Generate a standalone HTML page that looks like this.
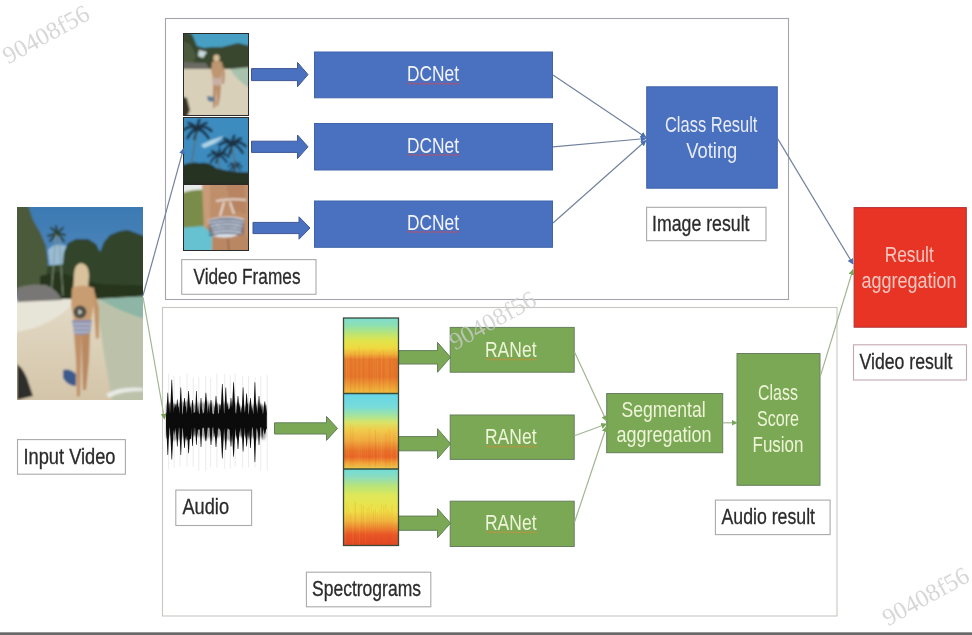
<!DOCTYPE html>
<html><head><meta charset="utf-8"><title>Video classification pipeline</title>
<style>html,body{margin:0;padding:0;background:#fff;overflow:hidden}svg{display:block;filter:blur(0.45px)}text{font-family:"Liberation Sans",sans-serif}</style>
</head><body>
<svg width="972" height="635" viewBox="0 0 972 635" font-family="Liberation Sans, sans-serif">
<defs>
<filter id="blur05"><feGaussianBlur stdDeviation="0.5"/></filter>
<filter id="blur1" x="-5%" y="-5%" width="110%" height="110%"><feGaussianBlur stdDeviation="1.2"/></filter>
<filter id="blur2" x="-5%" y="-5%" width="110%" height="110%"><feGaussianBlur stdDeviation="2"/></filter>
<linearGradient id="sky" x1="0" y1="0" x2="0" y2="1"><stop offset="0" stop-color="#3a78b2"/><stop offset="1" stop-color="#79a9cf"/></linearGradient>
<linearGradient id="sand" x1="0" y1="0" x2="0" y2="1"><stop offset="0" stop-color="#e3dac6"/><stop offset="1" stop-color="#d2c3a6"/></linearGradient>
<linearGradient id="water" x1="0" y1="0" x2="1" y2="0"><stop offset="0" stop-color="#c8cab0" stop-opacity="0"/><stop offset="1" stop-color="#86b8a8"/></linearGradient>
<linearGradient id="spec1" x1="0" y1="0" x2="0" y2="1">
 <stop offset="0" stop-color="#7fdcd0"/><stop offset="0.1" stop-color="#8ee0b0"/><stop offset="0.2" stop-color="#b8e478"/><stop offset="0.3" stop-color="#e0e44c"/>
 <stop offset="0.4" stop-color="#f0d840"/><stop offset="0.48" stop-color="#f0b03a"/><stop offset="0.55" stop-color="#e6782c"/><stop offset="0.78" stop-color="#e4742c"/>
 <stop offset="0.9" stop-color="#ec9c36"/><stop offset="1" stop-color="#f0bc40"/></linearGradient>
<linearGradient id="spec2" x1="0" y1="0" x2="0" y2="1">
 <stop offset="0" stop-color="#66d4ea"/><stop offset="0.18" stop-color="#78dcd8"/><stop offset="0.3" stop-color="#a8e49a"/><stop offset="0.38" stop-color="#d8e468"/>
 <stop offset="0.48" stop-color="#f0cc4c"/><stop offset="0.62" stop-color="#f0aa40"/><stop offset="0.76" stop-color="#e8702a"/><stop offset="0.84" stop-color="#e86428"/>
 <stop offset="0.92" stop-color="#f0a038"/><stop offset="1" stop-color="#e8cc50"/></linearGradient>
<linearGradient id="spec3" x1="0" y1="0" x2="0" y2="1">
 <stop offset="0" stop-color="#70dcd8"/><stop offset="0.1" stop-color="#8adcc0"/><stop offset="0.22" stop-color="#b8e47a"/><stop offset="0.35" stop-color="#dfe858"/>
 <stop offset="0.55" stop-color="#eee048"/><stop offset="0.68" stop-color="#f0b840"/><stop offset="0.78" stop-color="#ec8030"/><stop offset="0.86" stop-color="#e85428"/>
 <stop offset="1" stop-color="#e04424"/></linearGradient>
<marker id="ab" viewBox="0 0 10 10" refX="9" refY="5" markerWidth="5" markerHeight="5" orient="auto"><path d="M0,0 L10,5 L0,10 z" fill="#4a6fb0"/></marker>
<marker id="ag" viewBox="0 0 10 10" refX="9" refY="5" markerWidth="5" markerHeight="5" orient="auto"><path d="M0,0 L10,5 L0,10 z" fill="#7aa65a"/></marker>
</defs>
<rect width="972" height="635" fill="#ffffff"/>
<rect x="165.5" y="18.5" width="623" height="281" fill="none" stroke="#a4a4ac" stroke-width="1.1"/>
<rect x="162.5" y="307.5" width="674.5" height="308.5" fill="none" stroke="#c4c8c0" stroke-width="1.1"/>
<rect x="17.5" y="439.6" width="107.9" height="34.6" fill="#fff" stroke="#aaaaaa" stroke-width="1.1"/>
<text x="23.5" y="463.6" font-size="21.4" fill="#2b2b2b" textLength="92" lengthAdjust="spacingAndGlyphs" stroke="#2b2b2b" stroke-width="0.3">Input Video</text>
<rect x="181.7" y="259.6" width="134.3" height="34.7" fill="#fff" stroke="#aaaaaa" stroke-width="1.1"/>
<text x="193.5" y="283.6" font-size="21.4" fill="#2b2b2b" textLength="107" lengthAdjust="spacingAndGlyphs" stroke="#2b2b2b" stroke-width="0.3">Video Frames</text>
<rect x="646.6" y="207.3" width="119.4" height="33.4" fill="#fff" stroke="#aaaaaa" stroke-width="1.1"/>
<text x="652" y="230.6" font-size="21.4" fill="#2b2b2b" textLength="97.5" lengthAdjust="spacingAndGlyphs" stroke="#2b2b2b" stroke-width="0.3">Image result</text>
<rect x="853.5" y="344.8" width="113.0" height="35.2" fill="#fff" stroke="#c4a8b0" stroke-width="1.1"/>
<text x="859.5" y="368.8" font-size="21.4" fill="#2b2b2b" textLength="93" lengthAdjust="spacingAndGlyphs" stroke="#2b2b2b" stroke-width="0.3">Video result</text>
<rect x="175.8" y="490.1" width="75.8" height="35.4" fill="#fff" stroke="#aaaaaa" stroke-width="1.1"/>
<text x="182.5" y="514.2" font-size="21.4" fill="#2b2b2b" textLength="46.5" lengthAdjust="spacingAndGlyphs" stroke="#2b2b2b" stroke-width="0.3">Audio</text>
<rect x="306.4" y="572.2" width="124.4" height="34.6" fill="#fff" stroke="#aaaaaa" stroke-width="1.1"/>
<text x="312" y="596" font-size="21.4" fill="#2b2b2b" textLength="109" lengthAdjust="spacingAndGlyphs" stroke="#2b2b2b" stroke-width="0.3">Spectrograms</text>
<rect x="715.4" y="500.1" width="114.7" height="34.5" fill="#fff" stroke="#aaaaaa" stroke-width="1.1"/>
<text x="721.5" y="524" font-size="21.4" fill="#2b2b2b" textLength="93.5" lengthAdjust="spacingAndGlyphs" stroke="#2b2b2b" stroke-width="0.3">Audio result</text>
<clipPath id="cv"><rect x="17" y="207" width="126" height="193"/></clipPath>
<g clip-path="url(#cv)"><g filter="url(#blur1)">
<rect x="10" y="200" width="140" height="210" fill="url(#sky)"/>
<path d="M48,250 Q54,242 66,246 L66,268 Q58,272 50,268 Z" fill="#98bcd8"/>
<path d="M44,266 L68,264 L68,300 L44,300 Z" fill="#33442b"/>
<path d="M10,200 L28,205 L33,220 L40,232 L46,246 L48,262 L44,292 L10,294 Z" fill="#4b5a3a"/>
<path d="M62,272 L64,252 L68,243 L76,239 L88,239 L96,244 L100,252 L104,242 L110,235 L120,231 L128,230 L136,233 L150,238 L150,302 L58,302 Z" fill="#304429"/>
<path d="M40,276 L60,272 L80,280 L100,284 L150,286 L150,303 L40,303 Z" fill="#26351f"/>
<g stroke="#2c3c28" stroke-width="2.2" fill="none" stroke-linecap="round"><path d="M57,233 l-9,3 M57,233 l8,2 M57,233 l-6,-5 M57,233 l6,-5 M57,233 l-1,-7 M57,233 l-7,8 M57,233 l7,8"/></g>
<path d="M56,234 L51,296 M59,236 L63,296" stroke="#8a9880" stroke-width="1"/>
<rect x="10" y="299" width="140" height="110" fill="url(#sand)"/>
<path d="M10,299 L78,299 Q62,318 34,328 L10,334 Z" fill="#e7e4d8"/>
<path d="M96,299 L150,296 L150,410 L114,410 Q104,360 96,299 Z" fill="#bcc2aa"/>
<path d="M99,299 L150,296 L150,320 Q124,314 99,299 Z" fill="#8db6a6"/>
<path d="M106,394 Q120,386 143,388 L143,391 Q120,391 109,398Z" fill="#e6eae4"/>
<path d="M17,288 Q30,283 46,285 Q58,290 62,300 L17,302 Z" fill="#797774"/>
<path d="M17,364 Q25,370 29,384 L33,396 L17,400 Z" fill="#2e2e2b"/>
<path d="M74,276 Q74,264 81,263 Q89,264 89,276 L88,290 L80,292 L73,290 Z" fill="#d9c29c"/>
<path d="M72,288 Q82,283 94,288 L94,305 L91,321 L74,321 L71,305 Z" fill="#c99d72"/>
<path d="M94,290 L99,308 L99,338 L96,339 L94,312 Z" fill="#c39468"/>
<path d="M72,320 L92,320 L90,334 L82,336 L74,334 Z" fill="#8c92ae"/>
<path d="M73,324 L91,324 M73,328 L90,328 M74,332 L89,332" stroke="#dcdee8" stroke-width="0.9"/>
<path d="M74,334 L82,335 L81,360 L80,396 L77,397 L76,360 Z" fill="#c08f66"/>
<path d="M82,335 L90,333 L89,360 L86,390 L83,390 L82,360 Z" fill="#b98961"/>
<circle cx="80" cy="312" r="6.5" fill="#4c4e46"/>
<path d="M78.5,309 L82.5,312 L78.5,315 Z" fill="#d0d0c8"/>
<path d="M63,370 Q70,368 76,374 L76,386 Q68,386 63,378 Z" fill="#3d5a8c"/>
</g></g>
<clipPath id="cf1"><rect x="183" y="33" width="66" height="83"/></clipPath>
<g clip-path="url(#cf1)"><g filter="url(#blur1)">
<rect x="180" y="30" width="72" height="90" fill="#46a0c4"/>
<path d="M180,30 L192,34 L197,46 L204,48 L212,47 L222,47 L230,45 L238,43 L246,45 L252,46 L252,72 L180,72 Z" fill="#38472f"/>
<path d="M180,40 L190,44 L196,56 L192,66 L180,66 Z" fill="#4c5a3c"/>
<path d="M199,50 L207,52 L203,58 L198,56Z" fill="#c8d8dc"/>
<path d="M180,62 L206,63 L210,70 L180,71 Z" fill="#6c6a64"/>
<rect x="180" y="69" width="72" height="50" fill="#d9d0b9"/>
<path d="M230,69 L252,67 L252,90 Q236,80 230,69Z" fill="#a8c2ae"/>
<path d="M180,96 L187,98 L190,110 L186,119 L180,119Z" fill="#3a3328"/>
<ellipse cx="216.5" cy="58" rx="3.2" ry="3.6" fill="#d6bc96"/>
<path d="M212,62 Q217,60 222,62 L223,70 L221,79 L213,79 L211,70 Z" fill="#bf9672"/>
<path d="M223,64 L225,74 L224,84 L222,84 Z" fill="#b88e6c"/>
<path d="M212,78 L222,78 L221,86 L213,86Z" fill="#c8aea4"/>
<path d="M213,85 L217,86 L216,98 L215,108 L213,108 L213,98 Z M217,86 L221,85 L220,98 L218,106 L216,106 L217,98 Z" fill="#b88c68"/>
<path d="M207,96 L214,97 L214,102 L208,101Z" fill="#5a7a98"/>
</g></g>
<rect x="183.5" y="33.5" width="65" height="82" fill="none" stroke="#2a2a2a" stroke-width="1"/>
<clipPath id="cf2"><rect x="183" y="117" width="66" height="67"/></clipPath>
<g clip-path="url(#cf2)"><g filter="url(#blur1)">
<rect x="180" y="114" width="72" height="72" fill="#3c8cc0"/>
<path d="M201,145 Q212,139 224,136 Q218,143 204,148 Z" fill="#b0d6e6"/>
<path d="M197.5,129 Q190.5,124.0 183.5,130.0 M197.5,129 Q204.5,124.0 211.5,131.0 M197.5,129 Q191.5,130.0 187.5,138.0 M197.5,129 Q203.5,130.0 208.5,138.0 M197.5,129 Q197.5,123.0 199.5,120.0 M197.5,129 Q193.5,124.0 188.5,123.0 M197.5,129 Q201.5,124.0 206.5,123.0 M197.5,129 Q196.5,133.0 194.5,139.0" stroke="#1c3244" stroke-width="2.80" fill="none" stroke-linecap="round"/>
<path d="M232.4,144.3 Q225.8,139.6 219.1,145.2 M232.4,144.3 Q239.1,139.6 245.7,146.2 M232.4,144.3 Q226.7,145.2 222.9,152.9 M232.4,144.3 Q238.1,145.2 242.8,152.9 M232.4,144.3 Q232.4,138.6 234.3,135.8 M232.4,144.3 Q228.6,139.6 223.8,138.6 M232.4,144.3 Q236.2,139.6 241.0,138.6 M232.4,144.3 Q231.5,148.1 229.6,153.8" stroke="#1c3244" stroke-width="2.66" fill="none" stroke-linecap="round"/>
<path d="M218.4,155.4 Q213.2,151.7 207.9,156.2 M218.4,155.4 Q223.7,151.7 228.9,156.9 M218.4,155.4 Q213.9,156.2 210.9,162.2 M218.4,155.4 Q222.9,156.2 226.7,162.2 M218.4,155.4 Q218.4,150.9 219.9,148.7 M218.4,155.4 Q215.4,151.7 211.7,150.9 M218.4,155.4 Q221.4,151.7 225.2,150.9 M218.4,155.4 Q217.7,158.4 216.2,162.9" stroke="#1c3244" stroke-width="2.10" fill="none" stroke-linecap="round"/>
<path d="M235,166 Q231.5,163.5 228.0,166.5 M235,166 Q238.5,163.5 242.0,167.0 M235,166 Q232.0,166.5 230.0,170.5 M235,166 Q238.0,166.5 240.5,170.5 M235,166 Q235.0,163.0 236.0,161.5 M235,166 Q233.0,163.5 230.5,163.0 M235,166 Q237.0,163.5 239.5,163.0 M235,166 Q234.5,168.0 233.5,171.0" stroke="#1c3244" stroke-width="1.40" fill="none" stroke-linecap="round"/>
<path d="M197,132 L188,182 M232,147 L238,182 M218,158 L222,182" stroke="#5a6a6a" stroke-width="1.3"/>
<path d="M180,166 Q190,161 200,163 Q210,162 216,168 Q232,173 252,172 L252,186 L180,186 Z" fill="#283020"/>
</g></g>
<rect x="183.5" y="117.5" width="65" height="66.5" fill="none" stroke="#2a2a2a" stroke-width="1"/>
<clipPath id="cf3"><rect x="183" y="184" width="66" height="67"/></clipPath>
<g clip-path="url(#cf3)"><g filter="url(#blur1)">
<rect x="180" y="182" width="72" height="72" fill="#bf8f6c"/>
<path d="M180,182 L203,182 L202,192 L180,196 Z" fill="#e6ecea"/>
<path d="M180,194 Q192,189 204,190 L210,226 L200,232 L180,234 Z" fill="#7a8c4a"/>
<path d="M180,228 L204,226 L214,236 L216,254 L180,254 Z" fill="#66c2d0"/>
<path d="M202,184 L210,184 L210,226 L204,228 Z" fill="#c89c78"/>
<path d="M226,184 L244,184 L246,214 L232,210 Z" fill="#b88462"/>
<path d="M216,201 Q230,198 246,200 M224,202 L220,216 M230,202 L234,214" stroke="#eee6e0" stroke-width="1.6" fill="none"/>
<path d="M208,220 Q228,214 244,219 L241,234 Q226,240 214,236 Z" fill="#dde4ec"/>
<path d="M209,221.5 Q228,216.5 244,221.5" stroke="#34466a" stroke-width="1.8" fill="none"/>
<path d="M209,224.9 Q228,219.9 244,224.9" stroke="#34466a" stroke-width="1.8" fill="none"/>
<path d="M209,228.3 Q228,223.3 244,228.3" stroke="#34466a" stroke-width="1.8" fill="none"/>
<path d="M209,231.7 Q228,226.7 244,231.7" stroke="#34466a" stroke-width="1.8" fill="none"/>
<path d="M209,235.1 Q228,230.1 244,235.1" stroke="#34466a" stroke-width="1.8" fill="none"/>
<path d="M212,236 Q226,241 242,234 L249,238 L249,254 L212,254 Z" fill="#b98864"/>
<path d="M228,239 L229,252" stroke="#8a5a40" stroke-width="1.2"/>
</g></g>
<rect x="183.5" y="184.5" width="65" height="66" fill="none" stroke="#2a2a2a" stroke-width="1"/>
<path d="M251.5,68.6 L297.5,68.6 L297.5,62.39999999999999 L308,74.6 L297.5,86.8 L297.5,80.6 L251.5,80.6 Z" fill="#4a70c0" stroke="#3e5894" stroke-width="1"/>
<path d="M251.5,141.20000000000002 L297.5,141.20000000000002 L297.5,135.0 L308,146.8 L297.5,158.60000000000002 L297.5,152.4 L251.5,152.4 Z" fill="#4a70c0" stroke="#3e5894" stroke-width="1"/>
<path d="M253,222.4 L299,222.4 L299,216.8 L310,228 L299,239.2 L299,233.6 L253,233.6 Z" fill="#4a70c0" stroke="#3e5894" stroke-width="1"/>
<path d="M274.5,422.79999999999995 L326.5,422.79999999999995 L326.5,416.4 L337.5,428.4 L326.5,440.4 L326.5,434.0 L274.5,434.0 Z" fill="#7aa855" stroke="#667f5c" stroke-width="1"/>
<path d="M398.5,350.6 L437.5,350.6 L437.5,342.3 L450.5,357.3 L437.5,372.3 L437.5,364.0 L398.5,364.0 Z" fill="#7aa855" stroke="#667f5c" stroke-width="1"/>
<path d="M398.5,436.59999999999997 L437.5,436.59999999999997 L437.5,428.7 L450.5,443.7 L437.5,458.7 L437.5,450.8 L398.5,450.8 Z" fill="#7aa855" stroke="#667f5c" stroke-width="1"/>
<path d="M398.5,516.1 L437.5,516.1 L437.5,508.6 L450.5,523.2 L437.5,537.8000000000001 L437.5,530.3000000000001 L398.5,530.3000000000001 Z" fill="#7aa855" stroke="#667f5c" stroke-width="1"/>
<rect x="314.5" y="52.0" width="238" height="45.8" fill="#4a70c0" stroke="#4064aa" stroke-width="1"/>
<text x="407" y="81.2" font-size="21.4" fill="#f2f4fa" textLength="52" lengthAdjust="spacingAndGlyphs" >DCNet</text>
<path d="M407,83.7 L408.5,82.9 L410.0,84.5 L411.5,82.9 L413.0,84.5 L414.5,82.9 L416.0,84.5 L417.5,82.9 L419.0,84.5 L420.5,82.9 L422.0,84.5 L423.5,82.9 L425.0,84.5 L426.5,82.9 L428.0,84.5 L429.5,82.9 L431.0,84.5 L432.5,82.9 L434.0,84.5 L435.5,82.9 L437.0,84.5 L438.5,82.9 L440.0,84.5 L441.5,82.9 L443.0,84.5 L444.5,82.9 L446.0,84.5 L447.5,82.9 L449.0,84.5 L450.5,82.9 L452.0,84.5 L453.5,82.9 L455.0,84.5 L456.5,82.9 L458.0,84.5 L459.5,82.9" stroke="#d04a58" stroke-width="0.9" fill="none"/>
<rect x="314.5" y="123.5" width="238" height="46.5" fill="#4a70c0" stroke="#4064aa" stroke-width="1"/>
<text x="407" y="152.5" font-size="21.4" fill="#f2f4fa" textLength="52" lengthAdjust="spacingAndGlyphs" >DCNet</text>
<path d="M407,155.0 L408.5,154.2 L410.0,155.8 L411.5,154.2 L413.0,155.8 L414.5,154.2 L416.0,155.8 L417.5,154.2 L419.0,155.8 L420.5,154.2 L422.0,155.8 L423.5,154.2 L425.0,155.8 L426.5,154.2 L428.0,155.8 L429.5,154.2 L431.0,155.8 L432.5,154.2 L434.0,155.8 L435.5,154.2 L437.0,155.8 L438.5,154.2 L440.0,155.8 L441.5,154.2 L443.0,155.8 L444.5,154.2 L446.0,155.8 L447.5,154.2 L449.0,155.8 L450.5,154.2 L452.0,155.8 L453.5,154.2 L455.0,155.8 L456.5,154.2 L458.0,155.8 L459.5,154.2" stroke="#d04a58" stroke-width="0.9" fill="none"/>
<rect x="314.5" y="201.0" width="238" height="46.30000000000001" fill="#4a70c0" stroke="#4064aa" stroke-width="1"/>
<text x="407" y="229.5" font-size="21.4" fill="#f2f4fa" textLength="52" lengthAdjust="spacingAndGlyphs" >DCNet</text>
<path d="M407,232.0 L408.5,231.2 L410.0,232.8 L411.5,231.2 L413.0,232.8 L414.5,231.2 L416.0,232.8 L417.5,231.2 L419.0,232.8 L420.5,231.2 L422.0,232.8 L423.5,231.2 L425.0,232.8 L426.5,231.2 L428.0,232.8 L429.5,231.2 L431.0,232.8 L432.5,231.2 L434.0,232.8 L435.5,231.2 L437.0,232.8 L438.5,231.2 L440.0,232.8 L441.5,231.2 L443.0,232.8 L444.5,231.2 L446.0,232.8 L447.5,231.2 L449.0,232.8 L450.5,231.2 L452.0,232.8 L453.5,231.2 L455.0,232.8 L456.5,231.2 L458.0,232.8 L459.5,231.2" stroke="#d04a58" stroke-width="0.9" fill="none"/>
<rect x="646.7" y="86.8" width="130.6" height="101.4" fill="#4a70c0" stroke="#4064aa" stroke-width="1"/>
<text x="711.2" y="132.4" font-size="21.4" fill="#e8ecf6" textLength="92.5" lengthAdjust="spacingAndGlyphs" text-anchor="middle" >Class Result</text>
<text x="711.8" y="158" font-size="21.4" fill="#e8ecf6" textLength="51" lengthAdjust="spacingAndGlyphs" text-anchor="middle" >Voting</text>
<rect x="854.1" y="207.6" width="112.2" height="119.6" fill="#e83424" stroke="#b03034" stroke-width="1"/>
<text x="909.2" y="262" font-size="21.4" fill="#f6c6c0" textLength="49" lengthAdjust="spacingAndGlyphs" text-anchor="middle" >Result</text>
<text x="909" y="287.5" font-size="21.4" fill="#f6c6c0" textLength="95" lengthAdjust="spacingAndGlyphs" text-anchor="middle" >aggregation</text>
<rect x="450.2" y="327.4" width="124" height="44.80000000000001" fill="#7aa855" stroke="#667f5c" stroke-width="1"/>
<text x="485" y="357" font-size="21.4" fill="#eef4d8" textLength="51.5" lengthAdjust="spacingAndGlyphs" >RANet</text>
<path d="M486,359.5 L487.5,358.7 L489.0,360.3 L490.5,358.7 L492.0,360.3 L493.5,358.7 L495.0,360.3 L496.5,358.7 L498.0,360.3 L499.5,358.7 L501.0,360.3 L502.5,358.7 L504.0,360.3 L505.5,358.7 L507.0,360.3 L508.5,358.7 L510.0,360.3 L511.5,358.7 L513.0,360.3 L514.5,358.7 L516.0,360.3 L517.5,358.7 L519.0,360.3 L520.5,358.7 L522.0,360.3 L523.5,358.7 L525.0,360.3 L526.5,358.7 L528.0,360.3 L529.5,358.7 L531.0,360.3 L532.5,358.7 L534.0,360.3 L535.5,358.7 L537.0,360.3" stroke="#c8903a" stroke-width="0.9" fill="none"/>
<rect x="450.2" y="415" width="124" height="44.39999999999998" fill="#7aa855" stroke="#667f5c" stroke-width="1"/>
<text x="485" y="444.1" font-size="21.4" fill="#eef4d8" textLength="51.5" lengthAdjust="spacingAndGlyphs" >RANet</text>
<path d="M486,446.6 L487.5,445.8 L489.0,447.40000000000003 L490.5,445.8 L492.0,447.40000000000003 L493.5,445.8 L495.0,447.40000000000003 L496.5,445.8 L498.0,447.40000000000003 L499.5,445.8 L501.0,447.40000000000003 L502.5,445.8 L504.0,447.40000000000003 L505.5,445.8 L507.0,447.40000000000003 L508.5,445.8 L510.0,447.40000000000003 L511.5,445.8 L513.0,447.40000000000003 L514.5,445.8 L516.0,447.40000000000003 L517.5,445.8 L519.0,447.40000000000003 L520.5,445.8 L522.0,447.40000000000003 L523.5,445.8 L525.0,447.40000000000003 L526.5,445.8 L528.0,447.40000000000003 L529.5,445.8 L531.0,447.40000000000003 L532.5,445.8 L534.0,447.40000000000003 L535.5,445.8 L537.0,447.40000000000003" stroke="#c8903a" stroke-width="0.9" fill="none"/>
<rect x="450.2" y="501.2" width="124" height="45.30000000000001" fill="#7aa855" stroke="#667f5c" stroke-width="1"/>
<text x="485" y="529.8" font-size="21.4" fill="#eef4d8" textLength="51.5" lengthAdjust="spacingAndGlyphs" >RANet</text>
<path d="M486,532.3 L487.5,531.5 L489.0,533.0999999999999 L490.5,531.5 L492.0,533.0999999999999 L493.5,531.5 L495.0,533.0999999999999 L496.5,531.5 L498.0,533.0999999999999 L499.5,531.5 L501.0,533.0999999999999 L502.5,531.5 L504.0,533.0999999999999 L505.5,531.5 L507.0,533.0999999999999 L508.5,531.5 L510.0,533.0999999999999 L511.5,531.5 L513.0,533.0999999999999 L514.5,531.5 L516.0,533.0999999999999 L517.5,531.5 L519.0,533.0999999999999 L520.5,531.5 L522.0,533.0999999999999 L523.5,531.5 L525.0,533.0999999999999 L526.5,531.5 L528.0,533.0999999999999 L529.5,531.5 L531.0,533.0999999999999 L532.5,531.5 L534.0,533.0999999999999 L535.5,531.5 L537.0,533.0999999999999" stroke="#c8903a" stroke-width="0.9" fill="none"/>
<rect x="606.7" y="393.5" width="116" height="59.2" fill="#7aa855" stroke="#667f5c" stroke-width="1"/>
<text x="663.6" y="416.6" font-size="21.4" fill="#eef4d8" textLength="84" lengthAdjust="spacingAndGlyphs" text-anchor="middle" >Segmental</text>
<text x="664" y="441.6" font-size="21.4" fill="#eef4d8" textLength="95" lengthAdjust="spacingAndGlyphs" text-anchor="middle" >aggregation</text>
<rect x="737" y="353.5" width="83" height="131.8" fill="#7aa855" stroke="#667f5c" stroke-width="1"/>
<text x="778" y="399.7" font-size="21.4" fill="#eef4d8" textLength="40" lengthAdjust="spacingAndGlyphs" text-anchor="middle" >Class</text>
<text x="778" y="426.2" font-size="21.4" fill="#eef4d8" textLength="42" lengthAdjust="spacingAndGlyphs" text-anchor="middle" >Score</text>
<text x="778" y="451.9" font-size="21.4" fill="#eef4d8" textLength="51" lengthAdjust="spacingAndGlyphs" text-anchor="middle" >Fusion</text>
<line x1="143" y1="295.5" x2="183.5" y2="148.7" stroke="#72829e" stroke-width="1.2" marker-end="url(#ab)"/>
<line x1="553" y1="75" x2="646" y2="137.5" stroke="#72829e" stroke-width="1.2" marker-end="url(#ab)"/>
<line x1="553" y1="146.8" x2="646" y2="138.5" stroke="#72829e" stroke-width="1.2" marker-end="url(#ab)"/>
<line x1="553" y1="223" x2="646" y2="140.5" stroke="#72829e" stroke-width="1.2" marker-end="url(#ab)"/>
<line x1="777.8" y1="138.9" x2="853" y2="264" stroke="#72829e" stroke-width="1.2" marker-end="url(#ab)"/>
<line x1="143" y1="297" x2="164.5" y2="419" stroke="#a3b592" stroke-width="1.2" marker-end="url(#ag)"/>
<line x1="574.5" y1="351.9" x2="606.5" y2="421" stroke="#a3b592" stroke-width="1.2" marker-end="url(#ag)"/>
<line x1="574.5" y1="435.8" x2="606.5" y2="424" stroke="#a3b592" stroke-width="1.2" marker-end="url(#ag)"/>
<line x1="574.5" y1="522.3" x2="606.5" y2="426.5" stroke="#a3b592" stroke-width="1.2" marker-end="url(#ag)"/>
<line x1="722.8" y1="422.8" x2="737" y2="422.8" stroke="#a3b592" stroke-width="1.2" marker-end="url(#ag)"/>
<line x1="820" y1="377.4" x2="853" y2="269.5" stroke="#a3b592" stroke-width="1.2" marker-end="url(#ag)"/>
<line x1="168.6" y1="373.9" x2="168.6" y2="469.3" stroke="#e4e4e4" stroke-width="0.7"/>
<line x1="174.1" y1="376.2" x2="174.1" y2="467.8" stroke="#e4e4e4" stroke-width="0.7"/>
<line x1="180.1" y1="376.0" x2="180.1" y2="466.2" stroke="#e4e4e4" stroke-width="0.7"/>
<line x1="187.1" y1="373.4" x2="187.1" y2="466.5" stroke="#e4e4e4" stroke-width="0.7"/>
<line x1="193.2" y1="378.0" x2="193.2" y2="466.6" stroke="#e4e4e4" stroke-width="0.7"/>
<line x1="198.8" y1="376.8" x2="198.8" y2="470.7" stroke="#e4e4e4" stroke-width="0.7"/>
<line x1="205.8" y1="375.4" x2="205.8" y2="470.9" stroke="#e4e4e4" stroke-width="0.7"/>
<line x1="210.6" y1="378.2" x2="210.6" y2="467.4" stroke="#e4e4e4" stroke-width="0.7"/>
<line x1="216.9" y1="373.7" x2="216.9" y2="467.5" stroke="#e4e4e4" stroke-width="0.7"/>
<line x1="224.7" y1="374.1" x2="224.7" y2="468.9" stroke="#e4e4e4" stroke-width="0.7"/>
<line x1="230.3" y1="375.2" x2="230.3" y2="468.7" stroke="#e4e4e4" stroke-width="0.7"/>
<line x1="235.1" y1="373.4" x2="235.1" y2="467.0" stroke="#e4e4e4" stroke-width="0.7"/>
<line x1="242.6" y1="375.6" x2="242.6" y2="467.6" stroke="#e4e4e4" stroke-width="0.7"/>
<line x1="248.5" y1="375.7" x2="248.5" y2="467.5" stroke="#e4e4e4" stroke-width="0.7"/>
<line x1="255.1" y1="377.2" x2="255.1" y2="467.2" stroke="#e4e4e4" stroke-width="0.7"/>
<line x1="260.7" y1="376.2" x2="260.7" y2="470.4" stroke="#e4e4e4" stroke-width="0.7"/>
<line x1="267.2" y1="374.7" x2="267.2" y2="470.9" stroke="#e4e4e4" stroke-width="0.7"/>
<path d="M166.0,406.2 L168.0,401.7 L170.0,403.6 L172.0,402.3 L174.0,403.0 L176.0,404.8 L178.0,402.8 L180.0,403.8 L182.0,400.4 L184.0,402.4 L186.0,402.1 L188.0,400.0 L190.0,405.0 L192.0,402.3 L194.0,403.8 L196.0,406.2 L198.0,401.6 L200.0,405.3 L202.0,400.9 L204.0,403.9 L206.0,400.8 L208.0,401.0 L210.0,404.1 L212.0,400.8 L214.0,405.9 L216.0,405.4 L218.0,403.6 L220.0,405.2 L222.0,404.1 L224.0,403.0 L226.0,402.2 L228.0,402.7 L230.0,406.6 L232.0,401.5 L234.0,401.4 L236.0,404.2 L238.0,402.6 L240.0,406.5 L242.0,405.9 L244.0,406.6 L246.0,405.9 L248.0,404.5 L250.0,400.9 L252.0,406.0 L254.0,404.6 L256.0,406.1 L258.0,400.0 L260.0,403.6 L262.0,406.3 L264.0,405.1 L266.0,405.9 L266.0,435.2 L264.0,440.8 L262.0,437.4 L260.0,435.6 L258.0,438.3 L256.0,440.9 L254.0,437.5 L252.0,436.8 L250.0,439.3 L248.0,435.2 L246.0,435.7 L244.0,435.0 L242.0,437.4 L240.0,436.5 L238.0,435.4 L236.0,435.7 L234.0,437.7 L232.0,441.1 L230.0,441.3 L228.0,439.7 L226.0,438.6 L224.0,441.7 L222.0,437.6 L220.0,435.0 L218.0,439.1 L216.0,436.6 L214.0,436.2 L212.0,441.7 L210.0,437.5 L208.0,436.9 L206.0,440.7 L204.0,438.8 L202.0,435.6 L200.0,437.7 L198.0,435.9 L196.0,435.4 L194.0,436.2 L192.0,435.2 L190.0,437.7 L188.0,440.8 L186.0,439.5 L184.0,435.4 L182.0,438.3 L180.0,440.9 L178.0,439.1 L176.0,439.9 L174.0,441.1 L172.0,440.4 L170.0,435.3 L168.0,436.1 L166.0,437.9 Z" fill="#6a6a6a" opacity="0.6" filter="url(#blur1)"/>
<path d="M166.0,412.1 L166.8,414.9 L167.6,414.2 L168.4,412.7 L169.2,402.1 L170.0,413.4 L170.8,414.2 L171.6,400.6 L172.4,414.3 L173.2,412.5 L174.0,403.0 L174.8,408.5 L175.6,404.3 L176.4,404.3 L177.2,413.0 L178.0,406.1 L178.8,407.5 L179.6,414.3 L180.4,408.4 L181.2,412.3 L182.0,413.4 L182.8,414.5 L183.6,405.6 L184.4,409.4 L185.2,406.6 L186.0,406.1 L186.8,413.4 L187.6,412.2 L188.4,414.6 L189.2,414.3 L190.0,405.6 L190.8,407.8 L191.6,414.5 L192.4,414.4 L193.2,413.3 L194.0,413.1 L194.8,412.1 L195.6,412.7 L196.4,406.9 L197.2,412.9 L198.0,406.1 L198.8,412.4 L199.6,414.0 L200.4,414.6 L201.2,414.5 L202.0,408.5 L202.8,414.0 L203.6,412.8 L204.4,412.2 L205.2,407.0 L206.0,404.6 L206.8,414.0 L207.6,412.8 L208.4,403.4 L209.2,414.1 L210.0,402.5 L210.8,412.1 L211.6,413.9 L212.4,413.5 L213.2,413.8 L214.0,414.3 L214.8,406.3 L215.6,409.4 L216.4,408.5 L217.2,402.1 L218.0,412.9 L218.8,413.9 L219.6,404.0 L220.4,405.1 L221.2,412.8 L222.0,412.8 L222.8,413.9 L223.6,413.1 L224.4,412.8 L225.2,414.8 L226.0,414.1 L226.8,409.9 L227.6,401.9 L228.4,409.5 L229.2,409.2 L230.0,407.3 L230.8,414.9 L231.6,414.1 L232.4,412.5 L233.2,401.1 L234.0,405.5 L234.8,414.2 L235.6,412.2 L236.4,414.4 L237.2,401.6 L238.0,412.8 L238.8,410.7 L239.6,402.3 L240.4,413.3 L241.2,406.9 L242.0,413.7 L242.8,414.0 L243.6,403.5 L244.4,413.4 L245.2,410.0 L246.0,414.4 L246.8,403.0 L247.6,403.8 L248.4,415.0 L249.2,412.1 L250.0,402.0 L250.8,413.6 L251.6,406.5 L252.4,409.1 L253.2,413.3 L254.0,414.1 L254.8,413.6 L255.6,414.1 L256.4,402.9 L257.2,414.0 L258.0,405.1 L258.8,412.5 L259.6,412.1 L260.4,402.2 L261.2,410.1 L262.0,402.9 L262.8,414.0 L263.6,413.0 L264.4,414.5 L265.2,412.1 L266.0,403.5 L266.8,413.6 L266.8,429.8 L266.0,428.3 L265.2,429.9 L264.4,427.8 L263.6,428.1 L262.8,433.1 L262.0,440.6 L261.2,427.2 L260.4,427.4 L259.6,427.6 L258.8,433.3 L258.0,433.4 L257.2,429.0 L256.4,427.7 L255.6,435.3 L254.8,437.1 L254.0,440.8 L253.2,430.8 L252.4,427.2 L251.6,427.4 L250.8,432.2 L250.0,439.0 L249.2,427.3 L248.4,440.5 L247.6,428.4 L246.8,429.6 L246.0,427.7 L245.2,439.3 L244.4,428.0 L243.6,428.2 L242.8,427.7 L242.0,427.6 L241.2,439.6 L240.4,427.5 L239.6,433.5 L238.8,428.4 L238.0,434.8 L237.2,432.1 L236.4,440.2 L235.6,427.8 L234.8,432.9 L234.0,428.1 L233.2,427.9 L232.4,433.3 L231.6,428.0 L230.8,428.5 L230.0,429.7 L229.2,429.5 L228.4,428.7 L227.6,428.3 L226.8,433.1 L226.0,428.4 L225.2,438.1 L224.4,428.7 L223.6,427.4 L222.8,437.6 L222.0,436.7 L221.2,427.2 L220.4,432.2 L219.6,428.5 L218.8,429.5 L218.0,427.1 L217.2,437.9 L216.4,428.6 L215.6,438.2 L214.8,432.3 L214.0,437.5 L213.2,427.1 L212.4,427.8 L211.6,428.5 L210.8,428.1 L210.0,428.6 L209.2,427.5 L208.4,427.8 L207.6,427.5 L206.8,427.4 L206.0,428.9 L205.2,440.4 L204.4,429.5 L203.6,427.6 L202.8,427.8 L202.0,428.5 L201.2,427.6 L200.4,427.7 L199.6,429.8 L198.8,429.6 L198.0,429.4 L197.2,434.0 L196.4,435.6 L195.6,427.4 L194.8,427.8 L194.0,437.3 L193.2,427.1 L192.4,429.2 L191.6,428.5 L190.8,439.0 L190.0,439.1 L189.2,440.1 L188.4,428.3 L187.6,439.2 L186.8,440.7 L186.0,435.6 L185.2,439.9 L184.4,428.7 L183.6,428.0 L182.8,429.4 L182.0,427.1 L181.2,429.8 L180.4,428.4 L179.6,427.8 L178.8,427.8 L178.0,435.5 L177.2,428.6 L176.4,439.3 L175.6,427.5 L174.8,436.0 L174.0,429.3 L173.2,432.7 L172.4,438.7 L171.6,428.1 L170.8,436.1 L170.0,427.1 L169.2,429.2 L168.4,439.5 L167.6,435.3 L166.8,439.2 L166.0,427.4 Z" fill="#0b0b0b"/>
<path d="M166.3,415 L167.5,392.7 L168.1,392.7 L169.3,415 Z M166.3,427 L167.5,455 L168.1,455 L169.3,427 Z" fill="#0b0b0b"/>
<path d="M170.0,415 L171.5,379.7 L172.1,379.7 L173.6,415 Z M170.0,427 L171.5,459.4 L172.1,459.4 L173.6,427 Z" fill="#0b0b0b"/>
<path d="M176.0,415 L177.0,399.6 L177.6,399.6 L178.6,415 Z M176.0,427 L177.0,446.4 L177.6,446.4 L178.6,427 Z" fill="#0b0b0b"/>
<path d="M179.3,415 L180.5,387.5 L181.1,387.5 L182.3,415 Z M179.3,427 L180.5,455 L181.1,455 L182.3,427 Z" fill="#0b0b0b"/>
<path d="M182.7,415 L184.2,398 L184.8,398 L186.3,415 Z M182.7,427 L184.2,448 L184.8,448 L186.3,427 Z" fill="#0b0b0b"/>
<path d="M186.8,415 L188.3,391 L188.9,391 L190.4,415 Z M186.8,427 L188.3,453.3 L188.9,453.3 L190.4,427 Z" fill="#0b0b0b"/>
<path d="M191.2,415 L192.2,400 L192.8,400 L193.8,415 Z M191.2,427 L192.2,446 L192.8,446 L193.8,427 Z" fill="#0b0b0b"/>
<path d="M195.1,415 L196.1,391 L196.7,391 L197.7,415 Z M195.1,427 L196.1,444.7 L196.7,444.7 L197.7,427 Z" fill="#0b0b0b"/>
<path d="M199.7,415 L200.7,398 L201.3,398 L202.3,415 Z M199.7,427 L200.7,447 L201.3,447 L202.3,427 Z" fill="#0b0b0b"/>
<path d="M204.0,415 L205.6,392.7 L206.2,392.7 L207.8,415 Z M204.0,427 L205.6,441.2 L206.2,441.2 L207.8,427 Z" fill="#0b0b0b"/>
<path d="M209.5,415 L210.7,400 L211.3,400 L212.5,415 Z M209.5,427 L210.7,445 L211.3,445 L212.5,427 Z" fill="#0b0b0b"/>
<path d="M214.3,415 L215.7,396 L216.3,396 L217.7,415 Z M214.3,427 L215.7,447 L216.3,447 L217.7,427 Z" fill="#0b0b0b"/>
<path d="M220.5,415 L222.0,384 L222.6,384 L224.1,415 Z M220.5,427 L222.0,458.5 L222.6,458.5 L224.1,427 Z" fill="#0b0b0b"/>
<path d="M224.3,415 L225.5,387.5 L226.1,387.5 L227.3,415 Z M224.3,427 L225.5,450 L226.1,450 L227.3,427 Z" fill="#0b0b0b"/>
<path d="M229.5,415 L230.7,398 L231.3,398 L232.5,415 Z M229.5,427 L230.7,446.4 L231.3,446.4 L232.5,427 Z" fill="#0b0b0b"/>
<path d="M231.7,415 L233.3,382.3 L233.9,382.3 L235.5,415 Z M231.7,427 L233.3,456.8 L233.9,456.8 L235.5,427 Z" fill="#0b0b0b"/>
<path d="M236.3,415 L237.7,396 L238.3,396 L239.7,415 Z M236.3,427 L237.7,449 L238.3,449 L239.7,427 Z" fill="#0b0b0b"/>
<path d="M241.6,415 L242.8,387.5 L243.4,387.5 L244.6,415 Z M241.6,427 L242.8,451.6 L243.4,451.6 L244.6,427 Z" fill="#0b0b0b"/>
<path d="M244.9,415 L246.3,393.6 L246.9,393.6 L248.3,415 Z M244.9,427 L246.3,446.4 L246.9,446.4 L248.3,427 Z" fill="#0b0b0b"/>
<path d="M249.0,415 L250.2,398 L250.8,398 L252.0,415 Z M249.0,427 L250.2,448 L250.8,448 L252.0,427 Z" fill="#0b0b0b"/>
<path d="M253.4,415 L254.6,382.3 L255.2,382.3 L256.4,415 Z M253.4,427 L254.6,462 L255.2,462 L256.4,427 Z" fill="#0b0b0b"/>
<path d="M257.7,415 L258.7,396 L259.3,396 L260.3,415 Z M257.7,427 L258.7,445 L259.3,445 L260.3,427 Z" fill="#0b0b0b"/>
<path d="M263.0,415 L264.5,401.4 L265.1,401.4 L266.6,415 Z M263.0,427 L264.5,434.3 L265.1,434.3 L266.6,427 Z" fill="#0b0b0b"/>
<rect x="343.5" y="318" width="55" height="75.5" fill="url(#spec1)"/>
<rect x="343.5" y="393.5" width="55" height="75.5" fill="url(#spec2)"/>
<rect x="343.5" y="469" width="55" height="76.5" fill="url(#spec3)"/>
<g filter="url(#blur05)">
<line x1="345.0" y1="354.9" x2="345.0" y2="392.0" stroke="#d8601e" stroke-width="0.8" opacity="0.10"/>
<line x1="346.7" y1="352.7" x2="346.7" y2="392.0" stroke="#f8d050" stroke-width="0.8" opacity="0.24"/>
<line x1="348.8" y1="349.5" x2="348.8" y2="392.0" stroke="#f8d050" stroke-width="0.8" opacity="0.22"/>
<line x1="350.7" y1="353.0" x2="350.7" y2="392.0" stroke="#d8601e" stroke-width="0.8" opacity="0.22"/>
<line x1="353.1" y1="357.5" x2="353.1" y2="392.0" stroke="#f0c040" stroke-width="0.8" opacity="0.19"/>
<line x1="354.9" y1="350.5" x2="354.9" y2="392.0" stroke="#e0701e" stroke-width="0.8" opacity="0.22"/>
<line x1="357.2" y1="353.2" x2="357.2" y2="392.0" stroke="#f8d050" stroke-width="0.8" opacity="0.21"/>
<line x1="359.0" y1="346.9" x2="359.0" y2="392.0" stroke="#d8601e" stroke-width="0.8" opacity="0.17"/>
<line x1="361.2" y1="348.2" x2="361.2" y2="392.0" stroke="#f8d050" stroke-width="0.8" opacity="0.23"/>
<line x1="363.5" y1="349.7" x2="363.5" y2="392.0" stroke="#d8601e" stroke-width="0.8" opacity="0.13"/>
<line x1="365.3" y1="359.8" x2="365.3" y2="392.0" stroke="#f8d050" stroke-width="0.8" opacity="0.13"/>
<line x1="367.1" y1="352.5" x2="367.1" y2="392.0" stroke="#f0c040" stroke-width="0.8" opacity="0.21"/>
<line x1="369.6" y1="355.3" x2="369.6" y2="392.0" stroke="#d8601e" stroke-width="0.8" opacity="0.22"/>
<line x1="371.3" y1="349.9" x2="371.3" y2="392.0" stroke="#e0701e" stroke-width="0.8" opacity="0.16"/>
<line x1="373.6" y1="348.8" x2="373.6" y2="392.0" stroke="#f0c040" stroke-width="0.8" opacity="0.13"/>
<line x1="375.4" y1="349.9" x2="375.4" y2="392.0" stroke="#f0c040" stroke-width="0.8" opacity="0.15"/>
<line x1="377.5" y1="359.9" x2="377.5" y2="392.0" stroke="#f0c040" stroke-width="0.8" opacity="0.20"/>
<line x1="379.4" y1="352.5" x2="379.4" y2="392.0" stroke="#d8601e" stroke-width="0.8" opacity="0.12"/>
<line x1="381.7" y1="357.5" x2="381.7" y2="392.0" stroke="#f8d050" stroke-width="0.8" opacity="0.24"/>
<line x1="383.5" y1="350.1" x2="383.5" y2="392.0" stroke="#d8601e" stroke-width="0.8" opacity="0.11"/>
<line x1="385.9" y1="357.6" x2="385.9" y2="392.0" stroke="#f0c040" stroke-width="0.8" opacity="0.24"/>
<line x1="387.8" y1="358.1" x2="387.8" y2="392.0" stroke="#f8d050" stroke-width="0.8" opacity="0.19"/>
<line x1="390.1" y1="355.3" x2="390.1" y2="392.0" stroke="#d8601e" stroke-width="0.8" opacity="0.12"/>
<line x1="392.0" y1="354.7" x2="392.0" y2="392.0" stroke="#f0c040" stroke-width="0.8" opacity="0.11"/>
<line x1="393.9" y1="346.6" x2="393.9" y2="392.0" stroke="#e0701e" stroke-width="0.8" opacity="0.11"/>
<line x1="396.2" y1="358.8" x2="396.2" y2="392.0" stroke="#d8601e" stroke-width="0.8" opacity="0.22"/>
<line x1="344.7" y1="426.2" x2="344.7" y2="467.0" stroke="#e0701e" stroke-width="0.8" opacity="0.11"/>
<line x1="346.6" y1="427.9" x2="346.6" y2="467.0" stroke="#f8d050" stroke-width="0.8" opacity="0.11"/>
<line x1="348.7" y1="426.5" x2="348.7" y2="467.0" stroke="#f0c040" stroke-width="0.8" opacity="0.20"/>
<line x1="350.7" y1="423.3" x2="350.7" y2="467.0" stroke="#e0701e" stroke-width="0.8" opacity="0.16"/>
<line x1="352.9" y1="425.3" x2="352.9" y2="467.0" stroke="#d8601e" stroke-width="0.8" opacity="0.15"/>
<line x1="355.1" y1="426.0" x2="355.1" y2="467.0" stroke="#f8d050" stroke-width="0.8" opacity="0.10"/>
<line x1="357.3" y1="432.2" x2="357.3" y2="467.0" stroke="#f0c040" stroke-width="0.8" opacity="0.16"/>
<line x1="359.1" y1="434.2" x2="359.1" y2="467.0" stroke="#f8d050" stroke-width="0.8" opacity="0.24"/>
<line x1="361.2" y1="432.5" x2="361.2" y2="467.0" stroke="#f8d050" stroke-width="0.8" opacity="0.19"/>
<line x1="363.2" y1="431.8" x2="363.2" y2="467.0" stroke="#f0c040" stroke-width="0.8" opacity="0.10"/>
<line x1="365.3" y1="430.0" x2="365.3" y2="467.0" stroke="#f8d050" stroke-width="0.8" opacity="0.11"/>
<line x1="367.4" y1="426.2" x2="367.4" y2="467.0" stroke="#f0c040" stroke-width="0.8" opacity="0.12"/>
<line x1="369.3" y1="428.3" x2="369.3" y2="467.0" stroke="#d8601e" stroke-width="0.8" opacity="0.12"/>
<line x1="371.4" y1="432.3" x2="371.4" y2="467.0" stroke="#f0c040" stroke-width="0.8" opacity="0.15"/>
<line x1="373.7" y1="421.6" x2="373.7" y2="467.0" stroke="#f8d050" stroke-width="0.8" opacity="0.15"/>
<line x1="375.6" y1="429.9" x2="375.6" y2="467.0" stroke="#d8601e" stroke-width="0.8" opacity="0.24"/>
<line x1="377.7" y1="432.5" x2="377.7" y2="467.0" stroke="#f0c040" stroke-width="0.8" opacity="0.20"/>
<line x1="379.9" y1="429.7" x2="379.9" y2="467.0" stroke="#f0c040" stroke-width="0.8" opacity="0.22"/>
<line x1="381.5" y1="424.1" x2="381.5" y2="467.0" stroke="#f8d050" stroke-width="0.8" opacity="0.24"/>
<line x1="383.5" y1="426.0" x2="383.5" y2="467.0" stroke="#f0c040" stroke-width="0.8" opacity="0.14"/>
<line x1="385.9" y1="433.6" x2="385.9" y2="467.0" stroke="#d8601e" stroke-width="0.8" opacity="0.23"/>
<line x1="388.1" y1="430.4" x2="388.1" y2="467.0" stroke="#e0701e" stroke-width="0.8" opacity="0.12"/>
<line x1="390.0" y1="428.7" x2="390.0" y2="467.0" stroke="#e0701e" stroke-width="0.8" opacity="0.20"/>
<line x1="391.8" y1="424.5" x2="391.8" y2="467.0" stroke="#f8d050" stroke-width="0.8" opacity="0.20"/>
<line x1="394.0" y1="427.1" x2="394.0" y2="467.0" stroke="#d8601e" stroke-width="0.8" opacity="0.10"/>
<line x1="396.3" y1="427.5" x2="396.3" y2="467.0" stroke="#f8d050" stroke-width="0.8" opacity="0.21"/>
<line x1="345.0" y1="507.4" x2="345.0" y2="545.0" stroke="#f0c040" stroke-width="0.8" opacity="0.22"/>
<line x1="346.8" y1="501.9" x2="346.8" y2="545.0" stroke="#e0701e" stroke-width="0.8" opacity="0.16"/>
<line x1="348.7" y1="507.2" x2="348.7" y2="545.0" stroke="#d8601e" stroke-width="0.8" opacity="0.11"/>
<line x1="350.7" y1="513.9" x2="350.7" y2="545.0" stroke="#e0701e" stroke-width="0.8" opacity="0.22"/>
<line x1="353.0" y1="501.8" x2="353.0" y2="545.0" stroke="#f8d050" stroke-width="0.8" opacity="0.20"/>
<line x1="355.2" y1="501.4" x2="355.2" y2="545.0" stroke="#d8601e" stroke-width="0.8" opacity="0.25"/>
<line x1="357.2" y1="512.4" x2="357.2" y2="545.0" stroke="#f0c040" stroke-width="0.8" opacity="0.12"/>
<line x1="359.4" y1="505.0" x2="359.4" y2="545.0" stroke="#f0c040" stroke-width="0.8" opacity="0.20"/>
<line x1="361.3" y1="504.1" x2="361.3" y2="545.0" stroke="#e0701e" stroke-width="0.8" opacity="0.19"/>
<line x1="363.1" y1="505.5" x2="363.1" y2="545.0" stroke="#e0701e" stroke-width="0.8" opacity="0.24"/>
<line x1="365.3" y1="504.6" x2="365.3" y2="545.0" stroke="#f8d050" stroke-width="0.8" opacity="0.13"/>
<line x1="367.2" y1="508.1" x2="367.2" y2="545.0" stroke="#e0701e" stroke-width="0.8" opacity="0.16"/>
<line x1="369.2" y1="506.6" x2="369.2" y2="545.0" stroke="#e0701e" stroke-width="0.8" opacity="0.20"/>
<line x1="371.7" y1="503.4" x2="371.7" y2="545.0" stroke="#e0701e" stroke-width="0.8" opacity="0.12"/>
<line x1="373.5" y1="509.9" x2="373.5" y2="545.0" stroke="#e0701e" stroke-width="0.8" opacity="0.24"/>
<line x1="375.5" y1="508.3" x2="375.5" y2="545.0" stroke="#d8601e" stroke-width="0.8" opacity="0.14"/>
<line x1="377.6" y1="513.0" x2="377.6" y2="545.0" stroke="#e0701e" stroke-width="0.8" opacity="0.14"/>
<line x1="379.9" y1="509.1" x2="379.9" y2="545.0" stroke="#e0701e" stroke-width="0.8" opacity="0.15"/>
<line x1="381.4" y1="504.2" x2="381.4" y2="545.0" stroke="#d8601e" stroke-width="0.8" opacity="0.14"/>
<line x1="383.8" y1="505.3" x2="383.8" y2="545.0" stroke="#e0701e" stroke-width="0.8" opacity="0.21"/>
<line x1="385.9" y1="504.1" x2="385.9" y2="545.0" stroke="#e0701e" stroke-width="0.8" opacity="0.19"/>
<line x1="387.8" y1="508.2" x2="387.8" y2="545.0" stroke="#d8601e" stroke-width="0.8" opacity="0.12"/>
<line x1="389.7" y1="510.1" x2="389.7" y2="545.0" stroke="#d8601e" stroke-width="0.8" opacity="0.11"/>
<line x1="392.0" y1="505.3" x2="392.0" y2="545.0" stroke="#e0701e" stroke-width="0.8" opacity="0.18"/>
<line x1="393.9" y1="505.2" x2="393.9" y2="545.0" stroke="#f0c040" stroke-width="0.8" opacity="0.13"/>
<line x1="396.1" y1="507.6" x2="396.1" y2="545.0" stroke="#f0c040" stroke-width="0.8" opacity="0.10"/>
</g>
<rect x="343.5" y="318" width="55" height="227.5" fill="none" stroke="#3a4a38" stroke-width="1.3"/>
<line x1="343.5" y1="393.5" x2="398.5" y2="393.5" stroke="#3a4a38" stroke-width="1.5"/>
<line x1="343.5" y1="469" x2="398.5" y2="469" stroke="#3a4a38" stroke-width="1.5"/>
<text x="8.3" y="64.5" style="font-family:'Liberation Serif',serif" font-size="24.5" fill="#cccccc" fill-opacity="0.78" transform="rotate(-29 8.3 64.5)" textLength="95" lengthAdjust="spacingAndGlyphs">90408f56</text>
<text x="455" y="350.6" style="font-family:'Liberation Serif',serif" font-size="24.5" fill="#cccccc" fill-opacity="0.78" transform="rotate(-29 455 350.6)" textLength="95" lengthAdjust="spacingAndGlyphs">90408f56</text>
<text x="888" y="626.6" style="font-family:'Liberation Serif',serif" font-size="24.5" fill="#cccccc" fill-opacity="0.78" transform="rotate(-29 888 626.6)" textLength="95" lengthAdjust="spacingAndGlyphs">90408f56</text>
<rect x="0" y="632.3" width="972" height="3" fill="#686868"/>
</svg>
</body></html>
